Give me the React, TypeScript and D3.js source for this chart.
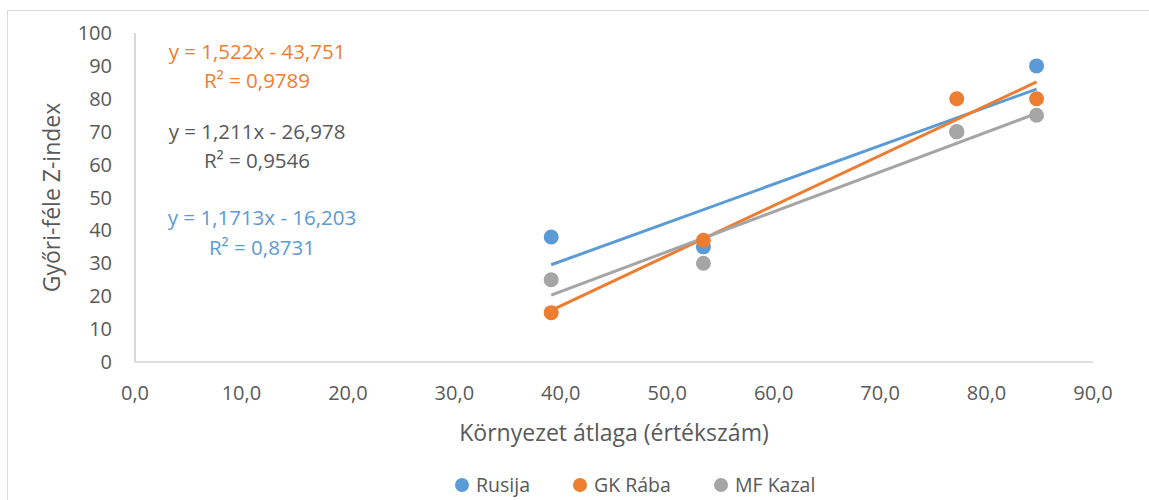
import React, { useEffect, useRef } from 'react'
import * as d3 from 'd3'

const seriesNames = ['Rusija', 'GK Rába', 'MF Kazal']
const colors = ['#5B9BD5', '#ED7D31', '#A5A5A5']
const xValues = [39.1, 53.4, 77.2, 84.7]
const rusija = [38, 35, 70, 90]
const gkRaba = [15, 37, 80, 80]
const mfKazal = [25, 30, 70, 75]
const equations = [
  ['y = 1,1713x - 16,203', 'R² = 0,8731'],
  ['y = 1,522x - 43,751', 'R² = 0,9789'],
  ['y = 1,211x - 26,978', 'R² = 0,9546'],
]
const xTicks = [0, 10, 20, 30, 40, 50, 60, 70, 80, 90]
const yTicks = [0, 10, 20, 30, 40, 50, 60, 70, 80, 90, 100]

function fit(xs: number[], ys: number[]) {
  const mx = d3.mean(xs)!, my = d3.mean(ys)!
  let sxy = 0, sxx = 0
  xs.forEach((x, i) => { sxy += (x - mx) * (ys[i] - my); sxx += (x - mx) * (x - mx) })
  const b = sxy / sxx
  return { b, a: my - b * mx }
}

export default function App() {
  const ref = useRef<SVGSVGElement>(null)

  useEffect(() => {
    const svg = d3.select(ref.current)
    svg.selectAll('*').remove()
    const font = "'Open Sans', sans-serif"
    const textColor = '#595959'

    svg.append('rect').attr('x', 7.5).attr('y', 10.5).attr('width', 1160).attr('height', 520)
      .attr('fill', '#fff').attr('stroke', '#d9d9d9')

    const x = d3.scaleLinear().domain([0, 90]).range([135, 1093])
    const y = d3.scaleLinear().domain([0, 100]).range([362, 33])

    // axes
    svg.append('line').attr('x1', x(0)).attr('x2', x(0)).attr('y1', y(100)).attr('y2', y(0))
      .attr('stroke', '#bfbfbf').attr('stroke-width', 1.2)
    svg.append('line').attr('x1', x(0)).attr('x2', x(90)).attr('y1', y(0)).attr('y2', y(0))
      .attr('stroke', '#bfbfbf').attr('stroke-width', 1.2)

    svg.append('g').selectAll('text').data(yTicks).join('text')
      .attr('x', 112).attr('y', d => y(d)).attr('dy', '0.35em').attr('text-anchor', 'end')
      .attr('font-family', font).attr('font-size', 20).attr('fill', textColor)
      .text(d => d)

    const fmt = (d: number) => d.toFixed(1).replace('.', ',')
    svg.append('g').selectAll('text').data(xTicks).join('text')
      .attr('x', d => x(d)).attr('y', 393).attr('dy', '0.35em').attr('text-anchor', 'middle')
      .attr('font-family', font).attr('font-size', 20).attr('fill', textColor)
      .text(d => fmt(d))

    svg.append('text').attr('x', 614).attr('y', 433).attr('dy', '0.35em').attr('text-anchor', 'middle')
      .attr('font-family', font).attr('font-size', 23).attr('fill', textColor)
      .text('Környezet átlaga (értékszám)')
    svg.append('text').attr('transform', `translate(52, ${y(50)}) rotate(-90)`).attr('dy', '0.35em')
      .attr('text-anchor', 'middle').attr('font-family', font).attr('font-size', 23).attr('fill', textColor)
      .text('Győri-féle Z-index')

    const series = [rusija, gkRaba, mfKazal]

    // trend lines
    series.forEach((ys, i) => {
      const { a, b } = fit(xValues, ys)
      const x0 = d3.min(xValues)!, x1 = d3.max(xValues)!
      svg.append('line').attr('x1', x(x0)).attr('y1', y(a + b * x0)).attr('x2', x(x1)).attr('y2', y(a + b * x1))
        .attr('stroke', colors[i]).attr('stroke-width', 3)
    })

    // points
    series.forEach((ys, i) => {
      svg.append('g').selectAll('circle').data(ys).join('circle')
        .attr('cx', (d, j) => x(xValues[j])).attr('cy', d => y(d)).attr('r', 7.5)
        .attr('fill', colors[i])
    })

    // equation labels
    const eqPos = [[262, 218, 248], [257, 52, 81], [257, 132, 161]]
    equations.forEach((eq, i) => {
      const [cx, y1, y2] = eqPos[i]
      const color = i === 2 ? textColor : colors[i]
      svg.append('text').attr('x', cx).attr('y', y1).attr('dy', '0.35em').attr('text-anchor', 'middle')
        .attr('font-family', font).attr('font-size', 20.5).attr('fill', color).text(eq[0])
      svg.append('text').attr('x', cx).attr('y', y2).attr('dy', '0.35em').attr('text-anchor', 'middle')
        .attr('font-family', font).attr('font-size', 20.5).attr('fill', color).text(eq[1])
    })

    // legend
    const legendX = [462, 580, 721]
    seriesNames.forEach((name, i) => {
      svg.append('circle').attr('cx', legendX[i]).attr('cy', 485).attr('r', 7).attr('fill', colors[i])
      svg.append('text').attr('x', legendX[i] + 14).attr('y', 485).attr('dy', '0.35em')
        .attr('font-family', font).attr('font-size', 19.5).attr('fill', textColor).text(name)
    })
  }, [])

  return (
    <svg ref={ref} width={1149} height={500}
      style={{ position: 'absolute', left: 0, top: 0, background: '#fff' }} />
  )
}
